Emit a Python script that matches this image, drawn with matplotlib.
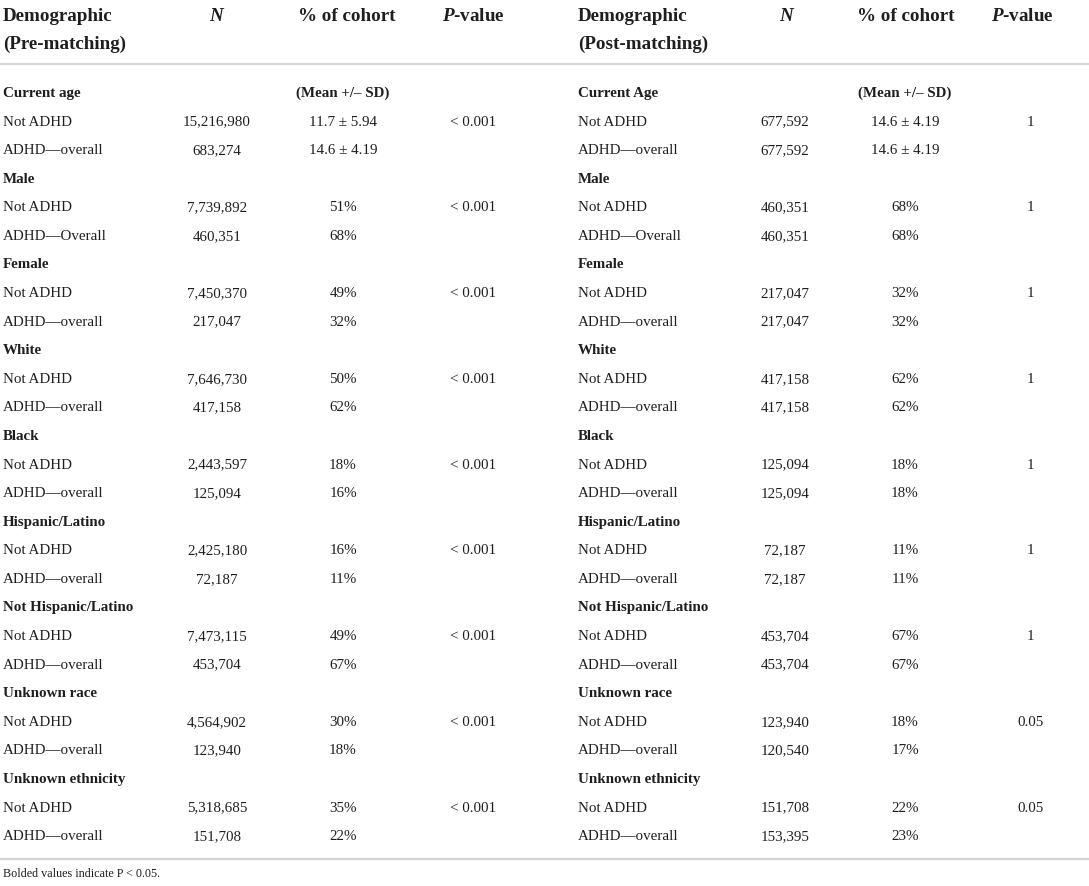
import matplotlib.pyplot as plt

plt.rcParams['font.family'] = ['Liberation Serif', 'DejaVu Serif']
plt.rcParams['mathtext.fontset'] = 'custom'
plt.rcParams['mathtext.bfit'] = 'Liberation Serif:italic:bold'
plt.rcParams['mathtext.it'] = 'Liberation Serif:italic'
plt.rcParams['mathtext.rm'] = 'Liberation Serif'

# Table data
groups_pre = ['Current age', 'Male', 'Female', 'White', 'Black', 'Hispanic/Latino',
              'Not Hispanic/Latino', 'Unknown race', 'Unknown ethnicity']
groups_post = ['Current Age', 'Male', 'Female', 'White', 'Black', 'Hispanic/Latino',
               'Not Hispanic/Latino', 'Unknown race', 'Unknown ethnicity']
adhd_labels = ['ADHD\u2014overall', 'ADHD\u2014Overall', 'ADHD\u2014overall', 'ADHD\u2014overall',
               'ADHD\u2014overall', 'ADHD\u2014overall', 'ADHD\u2014overall', 'ADHD\u2014overall',
               'ADHD\u2014overall']

n_pre_not = [15216980, 7739892, 7450370, 7646730, 2443597, 2425180, 7473115, 4564902, 5318685]
n_pre_adhd = [683274, 460351, 217047, 417158, 125094, 72187, 453704, 123940, 151708]
pct_pre_not = ['11.7 \u00b1 5.94', 51, 49, 50, 18, 16, 49, 30, 35]
pct_pre_adhd = ['14.6 \u00b1 4.19', 68, 32, 62, 16, 11, 67, 18, 22]
p_pre = ['< 0.001'] * 9

n_post_not = [677592, 460351, 217047, 417158, 125094, 72187, 453704, 123940, 151708]
n_post_adhd = [677592, 460351, 217047, 417158, 125094, 72187, 453704, 120540, 153395]
pct_post_not = ['14.6 \u00b1 4.19', 68, 32, 62, 18, 11, 67, 18, 22]
pct_post_adhd = ['14.6 \u00b1 4.19', 68, 32, 62, 18, 11, 67, 17, 23]
p_post = ['1', '1', '1', '1', '1', '1', '1', '0.05', '0.05']

footnote = 'Bolded values indicate P < 0.05.'

TXT = '#1e1e1e'
BODY = 10.8
HEAD = 13.7
BASE = 5  # offset from row centre to text baseline (px)


def fmt_pct(v):
    return v if isinstance(v, str) else f'{v}%'


fig = plt.figure(figsize=(10.89, 8.86), dpi=100)
ax = fig.add_axes([0, 0, 1, 1])
ax.set_xlim(0, 1089)
ax.set_ylim(886, 0)
ax.axis('off')


def cell(x, y, s, ha='left', bold=False, size=BODY):
    ax.text(x, y + BASE, s, fontsize=size, fontweight='bold' if bold else 'normal',
            color=TXT, ha=ha, va='baseline')


def draw_table(x_lab, x_n, x_pct, x_p, hx_n, hx_pct, hx_p, title, groups,
               n_not, n_adhd, pct_not, pct_adhd, pvals):
    # header
    hb = 6
    for x, y, s, ha in [(x_lab, 15, 'Demographic', 'left'), (x_lab, 43, title, 'left'),
                        (hx_n, 15, '$\\mathbfit{N}$', 'center'),
                        (hx_pct, 15, '% of cohort', 'center'),
                        (hx_p, 15, '$\\mathbfit{P}$-value', 'center')]:
        ax.text(x, y + hb, s, fontsize=HEAD, fontweight='bold', color=TXT, ha=ha, va='baseline')

    y0 = 92
    step = 28.58
    for i, g in enumerate(groups):
        yg = y0 + 3 * i * step
        cell(x_lab, yg, g, bold=True)
        if i == 0:
            cell(x_pct, yg, '(Mean +/\u2013 SD)', ha='center', bold=True)
        y1 = yg + step
        y2 = yg + 2 * step
        cell(x_lab, y1, 'Not ADHD')
        cell(x_lab, y2, adhd_labels[i])
        cell(x_n, y1, f'{n_not[i]:,}', ha='center')
        cell(x_n, y2, f'{n_adhd[i]:,}', ha='center')
        cell(x_pct, y1, fmt_pct(pct_not[i]), ha='center')
        cell(x_pct, y2, fmt_pct(pct_adhd[i]), ha='center')
        cell(x_p, y1, pvals[i], ha='center')


draw_table(3, 217, 343, 473, 217, 347, 473, '(Pre-matching)', groups_pre,
           n_pre_not, n_pre_adhd, pct_pre_not, pct_pre_adhd, p_pre)
draw_table(578, 785, 905, 1030, 787, 906, 1022, '(Post-matching)', groups_post,
           n_post_not, n_post_adhd, pct_post_not, pct_post_adhd, p_post)

# rules
ax.plot([0, 1089], [64, 64], color='#d4d4d4', lw=1.6, solid_capstyle='butt')
ax.plot([0, 1089], [859, 859], color='#d4d4d4', lw=1.6, solid_capstyle='butt')

ax.text(3, 877, footnote, fontsize=8.7, color=TXT, va='baseline')

fig.savefig('out.png', dpi=100, facecolor='white')
